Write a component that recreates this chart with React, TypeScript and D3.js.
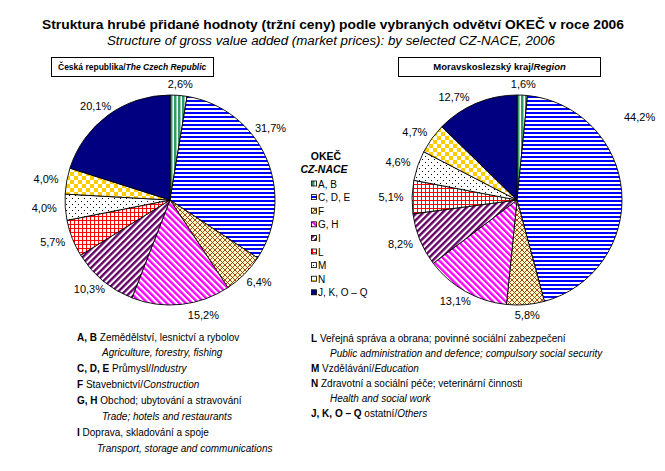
import React from 'react';
import * as d3 from 'd3';

// ---------- DATA ----------
const CATEGORIES = ['A, B', 'C, D, E', 'F', 'G, H', 'I', 'L', 'M', 'N', 'J, K, O – Q'];
const CZ_VALUES = [2.6, 31.7, 6.4, 15.2, 10.3, 5.7, 4.0, 4.0, 20.1];
const MSK_VALUES = [1.6, 44.2, 5.8, 13.1, 8.2, 5.1, 4.6, 4.7, 12.7];
const TITLE = 'Struktura hrubé přidané hodnoty (tržní ceny) podle vybraných odvětví OKEČ v roce 2006';
const SUBTITLE = 'Structure of gross value added (market prices): by selected CZ-NACE, 2006';
const CZ_HEADER = ['Česká republika/', 'The Czech Republic'];
const MSK_HEADER = ['Moravskoslezský kraj/', 'Region'];
const LEGEND_TITLE = ['OKEČ', 'CZ-NACE'];
const NOTE_CODES = ['A, B', 'C, D, E', 'F', 'G, H', 'I', 'L', 'M', 'N', 'J, K, O – Q'];
const NOTE_CZ = [
  'Zemědělství, lesnictví a rybolov',
  'Průmysl',
  'Stavebnictví',
  'Obchod; ubytování a stravování',
  'Doprava, skladování a spoje',
  'Veřejná správa a obrana; povinné sociální zabezpečení',
  'Vzdělávání',
  'Zdravotní a sociální péče; veterinární činnosti',
  'ostatní',
];
const NOTE_EN = [
  'Agriculture, forestry, fishing',
  'Industry',
  'Construction',
  'Trade; hotels and restaurants',
  'Transport, storage and communications',
  'Public administration and defence; compulsory social security',
  'Education',
  'Health and social work',
  'Others',
];
const NOTE_INLINE = [false, true, true, false, false, false, true, false, true];

// ---------- LAYOUT ----------
const W = 665;
const H = 471;
const R = 105;
const FONT = 'Liberation Sans, Arial, Helvetica, sans-serif';
const NARROW = 'Liberation Sans Narrow, Arial Narrow, Liberation Sans, Arial, sans-serif';
const PATTERN_IDS = ['pAB', 'pCDE', 'pF', 'pGH', 'pI', 'pL', 'pM', 'pN', 'pJK'];

const PIES = [
  { key: 'cz', cx: 170, cy: 200, values: CZ_VALUES, nudge: { 1: [-15, -25], 3: [20, 0] } as Record<number, number[]> },
  { key: 'msk', cx: 517, cy: 200, values: MSK_VALUES, nudge: { 1: [-3, -73], 8: [-14, 4] } as Record<number, number[]> },
];

const fmt = (v: number) => d3.format('.1f')(v).replace('.', ',') + '%';

function Patterns() {
  return (
    <defs>
      <pattern id="pAB" patternUnits="userSpaceOnUse" width={4} height={4}>
        <rect width={4} height={4} fill="#fff" />
        <rect x={0} width={2.5} height={4} fill="#339966" />
      </pattern>
      <pattern id="pCDE" patternUnits="userSpaceOnUse" width={4} height={4}>
        <rect width={4} height={4} fill="#fff" />
        <rect y={0} width={4} height={2} fill="#0000ff" />
      </pattern>
      <pattern id="pF" patternUnits="userSpaceOnUse" width={5} height={5}>
        <rect width={5} height={5} fill="#ffffcc" />
        <path d="M0,0L5,5M5,0L0,5" stroke="#993300" strokeWidth={0.9} />
      </pattern>
      <pattern id="pGH" patternUnits="userSpaceOnUse" width={4.5} height={10} patternTransform="rotate(-45)">
        <rect width={4.5} height={10} fill="#fff" />
        <rect width={2.4} height={10} fill="#ff00ff" />
      </pattern>
      <pattern id="pI" patternUnits="userSpaceOnUse" width={4.5} height={10} patternTransform="rotate(45)">
        <rect width={4.5} height={10} fill="#fff" />
        <rect width={2.4} height={10} fill="#660066" />
      </pattern>
      <pattern id="pL" patternUnits="userSpaceOnUse" width={4} height={4}>
        <rect width={4} height={4} fill="#fff" />
        <rect width={4} height={1} fill="#ff0000" />
        <rect width={1} height={4} fill="#ff0000" />
      </pattern>
      <pattern id="pM" patternUnits="userSpaceOnUse" width={6} height={6}>
        <rect width={6} height={6} fill="#fff" />
        <rect x={1} y={1} width={1} height={1} fill="#000" />
        <rect x={4} y={4} width={1} height={1} fill="#000" />
      </pattern>
      <pattern id="pN" patternUnits="userSpaceOnUse" width={8} height={8}>
        <rect width={8} height={8} fill="#fff" />
        <rect width={4} height={4} fill="#ffcc00" />
        <rect x={4} y={4} width={4} height={4} fill="#ffcc00" />
      </pattern>
      <pattern id="pJK" patternUnits="userSpaceOnUse" width={4} height={4}>
        <rect width={4} height={4} fill="#000080" />
      </pattern>
    </defs>
  );
}

function Pie({ cx, cy, values, nudge }: { cx: number; cy: number; values: number[]; nudge: Record<number, number[]> }) {
  const arcs = d3.pie<number>().sort(null).value((d) => d)(values);
  const arc = d3.arc<d3.PieArcDatum<number>>().innerRadius(0).outerRadius(R);
  const gap = 6;
  const hw = 15;
  const hh = 5;
  return (
    <g>
      <g transform={`translate(${cx},${cy})`}>
        {arcs.map((a, i) => (
          <path key={i} d={arc(a) || ''} fill={`url(#${PATTERN_IDS[i]})`} stroke="#000" strokeWidth={0.9} />
        ))}
      </g>
      {arcs.map((a, i) => {
        const mid = (a.startAngle + a.endAngle) / 2;
        const s = Math.sin(mid);
        const c = Math.cos(mid);
        const n = nudge[i] || [0, 0];
        const x = cx + (R + gap + hw) * s + n[0];
        const y = cy - (R + gap) * c - hh * c + n[1];
        return (
          <text key={i} x={x} y={y} dy="0.35em" textAnchor="middle" fontSize={11} fontFamily={FONT} fill="#000">
            {fmt(values[i])}
          </text>
        );
      })}
    </g>
  );
}

function Legend() {
  const x0 = 311;
  const y0 = 184;
  const step = 13.6;
  return (
    <g fontFamily={FONT}>
      <text x={326} y={156} dy="0.35em" textAnchor="middle" fontSize={10.5} fontWeight="bold">{LEGEND_TITLE[0]}</text>
      <text x={324} y={169.5} dy="0.35em" textAnchor="middle" fontSize={10.5} fontWeight="bold" fontStyle="italic">{LEGEND_TITLE[1]}</text>
      {CATEGORIES.map((c, i) => (
        <g key={i}>
          <rect x={x0 + 0.5} y={y0 + i * step - 3} width={5} height={5} fill={`url(#${PATTERN_IDS[i]})`} stroke="#000" strokeWidth={0.8} />
          <text x={x0 + 7} y={y0 + i * step} dy="0.35em" fontSize={10}>{c}</text>
        </g>
      ))}
    </g>
  );
}

function Notes() {
  const cols = [
    { idx: [0, 1, 2, 3, 4], x: 77, y: 337, step: 15.86, indent: 25 },
    { idx: [5, 6, 7, 8], x: 311, y: 338, step: 15, indent: 19 },
  ];
  const out: React.ReactNode[] = [];
  cols.forEach((col, ci) => {
    let line = 0;
    col.idx.forEach((i) => {
      const y = col.y + line * col.step;
      out.push(
        <text key={`${ci}-${i}-a`} x={col.x} y={y} dy="0.35em" fontSize={10} fontFamily={FONT}>
          <tspan fontWeight="bold">{NOTE_CODES[i]}</tspan>
          <tspan>{' ' + NOTE_CZ[i] + (NOTE_INLINE[i] ? '/' : '')}</tspan>
          {NOTE_INLINE[i] ? <tspan fontStyle="italic">{NOTE_EN[i]}</tspan> : null}
        </text>
      );
      line += 1;
      if (!NOTE_INLINE[i]) {
        const ind = i === 4 ? 20 : col.indent;
        out.push(
          <text key={`${ci}-${i}-b`} x={col.x + ind} y={col.y + line * col.step} dy="0.35em" fontSize={10} fontFamily={FONT} fontStyle="italic">
            {NOTE_EN[i]}
          </text>
        );
        line += 1;
      }
    });
  });
  return <g>{out}</g>;
}

export default function App() {
  return (
    <svg width={W} height={H} style={{ position: 'absolute', left: 0, top: 0, background: '#fff' }} xmlns="http://www.w3.org/2000/svg">
      <Patterns />
      <rect width={W} height={H} fill="#fff" />
      <text x={333} y={24} dy="0.35em" textAnchor="middle" fontSize={13.5} fontWeight="bold" fontFamily={NARROW} textLength={582} lengthAdjust="spacingAndGlyphs">
        {TITLE}
      </text>
      <text x={331} y={41} dy="0.35em" textAnchor="middle" fontSize={12} fontStyle="italic" fontFamily={FONT} textLength={448} lengthAdjust="spacingAndGlyphs">
        {SUBTITLE}
      </text>
      <rect x={51.5} y={57.5} width={162} height={19} fill="none" stroke="#000" strokeWidth={1} />
      <text x={58} y={67} dy="0.35em" fontSize={8.5} fontWeight="bold" fontFamily={FONT}>
        <tspan>{CZ_HEADER[0]}</tspan>
        <tspan fontStyle="italic">{CZ_HEADER[1]}</tspan>
      </text>
      <rect x={398.5} y={57.5} width={202} height={19} fill="none" stroke="#000" strokeWidth={1} />
      <text x={499.5} y={67} dy="0.35em" textAnchor="middle" fontSize={9.5} fontWeight="bold" fontFamily={FONT}>
        <tspan>{MSK_HEADER[0]}</tspan>
        <tspan fontStyle="italic">{MSK_HEADER[1]}</tspan>
      </text>
      {PIES.map((p) => (
        <Pie key={p.key} cx={p.cx} cy={p.cy} values={p.values} nudge={p.nudge} />
      ))}
      <Legend />
      <Notes />
    </svg>
  );
}
